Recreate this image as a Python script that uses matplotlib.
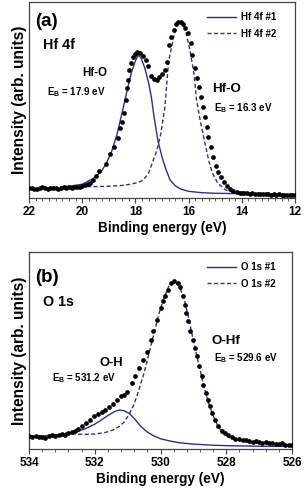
import matplotlib
matplotlib.use("Agg")
import matplotlib.pyplot as plt
from matplotlib.ticker import MultipleLocator

plt.rcParams["font.family"] = "Liberation Sans"
plt.rcParams["font.weight"] = "bold"
plt.rcParams["mathtext.fontset"] = "custom"
plt.rcParams["mathtext.rm"] = "Liberation Sans:bold"
plt.rcParams["mathtext.it"] = "Liberation Sans:bold"
plt.rcParams["mathtext.bf"] = "Liberation Sans:bold"

W, H = 306, 493
FIT = "#2d2d96"
SPINE = "#454545"

# ---- panel (a): Hf 4f -------------------------------------------------------
a_band_l_E = [22.0, 21.9, 21.8, 21.7, 21.6, 21.5, 21.4, 21.3, 21.2, 21.1, 21.0, 20.9, 20.8,
              20.7, 20.6, 20.5, 20.4, 20.3, 20.2, 20.1, 20.0, 19.9, 19.8, 19.7, 19.6, 19.5]
a_band_l_I = [5.0, 5.3, 4.8, 4.6, 5.1, 5.4, 5.0, 4.7, 4.9, 5.3, 5.1, 4.8, 5.0,
              5.4, 5.2, 5.5, 5.3, 5.6, 5.8, 5.7, 6.1, 6.4, 7.0, 7.8, 9.3, 11.2]
a_dots_E = [19.37, 19.11, 18.95, 18.79, 18.67, 18.58, 18.52, 18.43, 18.35, 18.30, 18.27,
            18.23, 18.17, 18.10, 18.02, 17.93, 17.83, 17.73, 17.61, 17.51, 17.41, 17.31,
            17.20, 17.11, 17.01, 16.89, 16.80, 16.72, 16.65, 16.56, 16.47, 16.39, 16.30,
            16.22, 16.14, 16.01, 15.92, 15.86, 15.76, 15.70, 15.61, 15.55, 15.47, 15.40,
            15.32, 15.26, 15.17, 15.07, 14.98, 14.88, 14.78, 14.67, 14.57, 14.44, 14.32,
            14.19, 14.07]
a_dots_I = [13.8, 17.2, 22.4, 26.2, 30.4, 35.5, 38.9, 43.2, 50.0, 56.0, 60.2,
            65.3, 69.0, 71.8, 73.3, 74.7, 73.8, 72.4, 70.4, 67.3, 62.2, 60.9,
            60.2, 61.6, 63.3, 65.3, 69.6, 78.1, 82.3, 85.7, 88.8, 90.0, 90.0,
            88.8, 86.6, 84.0, 79.3, 73.0, 66.2, 61.1, 56.5, 51.7, 46.3, 41.5,
            36.4, 31.3, 26.2, 21.1, 16.5, 13.1, 10.5, 8.0, 6.1, 4.8, 3.7,
            3.2, 2.7]
a_band_r_E = [14.0, 13.9, 13.8, 13.7, 13.6, 13.5, 13.4, 13.3, 13.2, 13.1, 13.0,
              12.9, 12.8, 12.7, 12.6, 12.5, 12.4, 12.3, 12.2, 12.1, 12.0]
a_band_r_I = [2.6, 2.3, 2.5, 2.1, 2.4, 2.0, 2.2, 1.9, 2.1, 1.8, 2.0,
              1.7, 1.9, 1.6, 1.8, 1.5, 1.7, 1.6, 1.4, 1.6, 1.5]
a_fit1_E = [20.8, 20.4, 20.0, 19.6, 19.3, 19.1, 18.9, 18.7, 18.5, 18.3, 18.15, 18.0, 17.9,
            17.8, 17.65, 17.5, 17.4, 17.3, 17.15, 17.0, 16.85, 16.7, 16.5, 16.3, 16.0,
            15.5, 15.0, 14.5, 14.0, 13.75]
a_fit1_I = [5.6, 6.2, 7.0, 9.8, 13.2, 17.5, 23.5, 32.0, 43.5, 55.5, 64.0, 70.0, 72.8,
            71.8, 66.5, 58.5, 51.5, 41.5, 29.0, 21.0, 14.5, 9.3, 6.2, 4.6, 3.4,
            2.7, 2.4, 2.3, 2.2, 2.2]
a_fit2_E = [20.8, 20.0, 19.5, 19.0, 18.5, 18.2, 17.9, 17.7, 17.5, 17.35, 17.2, 17.05, 16.9,
            16.75, 16.6, 16.5, 16.4, 16.3, 16.2, 16.1, 15.95, 15.8, 15.7, 15.55, 15.4,
            15.25, 15.1, 14.9, 14.6, 14.3, 14.0, 13.75]
a_fit2_I = [5.6, 5.9, 5.8, 6.0, 6.4, 7.0, 7.9, 9.2, 12.8, 18.5, 24.0, 32.5, 45.5,
            70.0, 79.5, 86.0, 89.2, 90.0, 89.0, 84.5, 75.5, 63.6, 50.0, 38.5, 29.0,
            19.5, 12.5, 7.5, 4.0, 2.9, 2.5, 2.4]

# ---- panel (b): O 1s --------------------------------------------------------
b_band_l_E = [534.0, 533.9, 533.8, 533.7, 533.6, 533.5, 533.4, 533.3, 533.2, 533.1,
              533.0, 532.9, 532.8, 532.7, 532.6]
b_band_l_I = [6.8, 6.3, 6.6, 5.9, 6.2, 5.8, 6.4, 6.9, 6.5, 7.2, 7.6, 7.3, 8.0, 8.6, 8.9]
b_dots_E = [532.52, 532.40, 532.27, 532.15, 532.02, 531.89, 531.79, 531.69, 531.56,
            531.44, 531.32, 531.21, 531.10, 531.01, 530.88, 530.78, 530.65, 530.53,
            530.42, 530.30, 530.22, 530.10, 530.00, 529.92, 529.85, 529.77, 529.69,
            529.58, 529.48, 529.41, 529.31, 529.26, 529.21, 529.16, 529.09, 529.02,
            528.95, 528.90, 528.82, 528.75, 528.70, 528.62, 528.55, 528.50, 528.42,
            528.35, 528.25, 528.14, 528.04, 527.94, 527.84, 527.72]
b_dots_I = [10.1, 11.8, 13.2, 14.9, 16.5, 17.8, 18.6, 19.9, 21.1,
            23.0, 24.7, 26.7, 27.6, 28.7, 33.5, 37.2, 41.1, 45.3,
            49.0, 55.5, 59.7, 65.6, 71.6, 74.9, 77.5, 80.9, 84.3,
            85.1, 84.3, 82.0, 77.5, 73.2, 69.0, 64.8, 59.7, 55.5,
            51.3, 47.0, 41.9, 36.9, 32.6, 28.4, 25.0, 21.6, 18.3,
            14.9, 11.5, 9.3, 8.1, 6.9, 5.9, 5.1]
b_band_r_E = [527.6, 527.5, 527.4, 527.3, 527.2, 527.1, 527.0, 526.9, 526.8, 526.7,
              526.6, 526.5, 526.4, 526.3, 526.2, 526.1, 526.0]
b_band_r_I = [4.9, 4.4, 4.6, 4.0, 3.7, 4.1, 3.5, 3.2, 3.6, 2.9, 3.1, 2.6, 2.4, 2.8,
              2.2, 2.0, 1.8]
b_fit1_E = [534.0, 533.5, 533.0, 532.6, 532.3, 532.0, 531.8, 531.6, 531.4, 531.25, 531.1,
            530.95, 530.8, 530.6, 530.4, 530.2, 530.0, 529.7, 529.4, 529.0, 528.5,
            528.0, 527.0, 526.0]
b_fit1_I = [6.4, 6.7, 7.4, 8.5, 10.2, 12.6, 14.7, 17.0, 19.0, 19.8, 19.4,
            18.0, 15.5, 11.5, 8.6, 6.6, 5.2, 4.0, 3.1, 2.5, 2.0,
            1.7, 1.4, 1.3]
b_fit2_E = [532.9, 532.6, 532.3, 532.0, 531.7, 531.45, 531.25, 531.1, 530.95, 530.8,
            530.65, 530.5, 530.35, 530.2, 530.05, 529.9, 529.75, 529.6, 529.45, 529.3,
            529.15, 529.0, 528.85, 528.7, 528.55, 528.4, 528.25, 528.1, 527.9, 527.6,
            527.2, 526.8, 526.4, 526.05]
b_fit2_I = [8.2, 7.6, 7.4, 7.6, 8.3, 9.6, 11.5, 13.8, 17.8, 22.8,
            30.5, 38.5, 48.5, 58.5, 68.5, 76.5, 82.5, 84.8, 83.0, 77.5,
            67.0, 55.0, 44.0, 33.0, 24.0, 17.0, 11.5, 8.0, 5.8, 4.3,
            3.3, 2.7, 2.3, 2.1]

a_ticks = [22, 20, 18, 16, 14, 12]
b_ticks = [534, 532, 530, 528, 526]


def px(x, y):
    return x / W, 1 - y / H


def panel(fig, rect, E_sets, fit1, fit2, xlim, ticks, minor, labels):
    l, t, r, b = rect
    ax = fig.add_axes([l / W, 1 - b / H, (r - l) / W, (b - t) / H])
    for E, I in E_sets:
        ax.plot(E, I, "o", color="black", ms=3.4, mew=0, zorder=3)
    ax.plot(fit1[0], fit1[1], "-", color=FIT, lw=1.0, label=labels[0], zorder=2)
    ax.plot(fit2[0], fit2[1], color=FIT, lw=1.0, dashes=(2.9, 1.8), label=labels[1], zorder=2)
    ax.set_xlim(*xlim)
    ax.set_ylim(0, 100)
    ax.set_xticks(ticks)
    ax.set_xticklabels([str(t) for t in ticks])
    ax.xaxis.set_minor_locator(MultipleLocator(minor))
    ax.set_yticks([])
    ax.tick_params(axis="x", which="major", direction="out", length=3.5, width=0.8,
                   color=SPINE, labelsize=8.5, pad=2.5)
    ax.tick_params(axis="x", which="minor", direction="out", length=2, width=0.6, color=SPINE)
    for s in ax.spines.values():
        s.set_color(SPINE)
        s.set_linewidth(0.9)
    ax.set_xlabel("Binding energy (eV)", fontsize=9.8, fontweight="bold", labelpad=2)
    ax.set_ylabel("Intensity (arb. units)", fontsize=11.2, fontweight="bold", labelpad=1.5)
    ax.legend(loc="upper left", bbox_to_anchor=((207 - l) / (r - l), 1 - 10 / (b - t)),
              frameon=False, fontsize=7.0, handlelength=3.0, handletextpad=0.5,
              borderpad=0, borderaxespad=0, labelspacing=0.68)
    return ax


fig = plt.figure(figsize=(W / 100, H / 100), dpi=100, facecolor="white")

panel(fig, (29, 2, 295, 198),
      [(a_band_l_E, a_band_l_I), (a_dots_E, a_dots_I), (a_band_r_E, a_band_r_I)],
      (a_fit1_E, a_fit1_I), (a_fit2_E, a_fit2_I), (22, 12), a_ticks, 0.25,
      ("Hf 4f #1", "Hf 4f #2"))
panel(fig, (29, 252, 292, 449),
      [(b_band_l_E, b_band_l_I), (b_dots_E, b_dots_I), (b_band_r_E, b_band_r_I)],
      (b_fit1_E, b_fit1_I), (b_fit2_E, b_fit2_I), (534, 526), b_ticks, 0.4,
      ("O 1s #1", "O 1s #2"))

# annotations (a)
fig.text(*px(35, 22), "(a)", fontsize=13.5, va="center", ha="left")
fig.text(*px(43, 45), "Hf 4f", fontsize=10.3, va="center", ha="left")
fig.text(*px(82, 73), "Hf-O", fontsize=8.3, va="center", ha="left")
fig.text(*px(47, 92), r"$\mathrm{E_B}$ = 17.9 eV", fontsize=7.0, va="center", ha="left")
fig.text(*px(212, 89), "Hf-O", fontsize=9.6, va="center", ha="left")
fig.text(*px(214, 108), r"$\mathrm{E_B}$ = 16.3 eV", fontsize=7.0, va="center", ha="left")

# annotations (b)
fig.text(*px(35, 277), "(b)", fontsize=13.5, va="center", ha="left")
fig.text(*px(43, 302), "O 1s", fontsize=10.3, va="center", ha="left")
fig.text(*px(99, 363), "O-H", fontsize=9.3, va="center", ha="left")
fig.text(*px(52, 378), r"$\mathrm{E_B}$ = 531.2 eV", fontsize=7.0, va="center", ha="left")
fig.text(*px(212, 341), "O-Hf", fontsize=9.6, va="center", ha="left")
fig.text(*px(214, 358), r"$\mathrm{E_B}$ = 529.6 eV", fontsize=7.0, va="center", ha="left")

fig.savefig("out.png", dpi=100, facecolor="white")
